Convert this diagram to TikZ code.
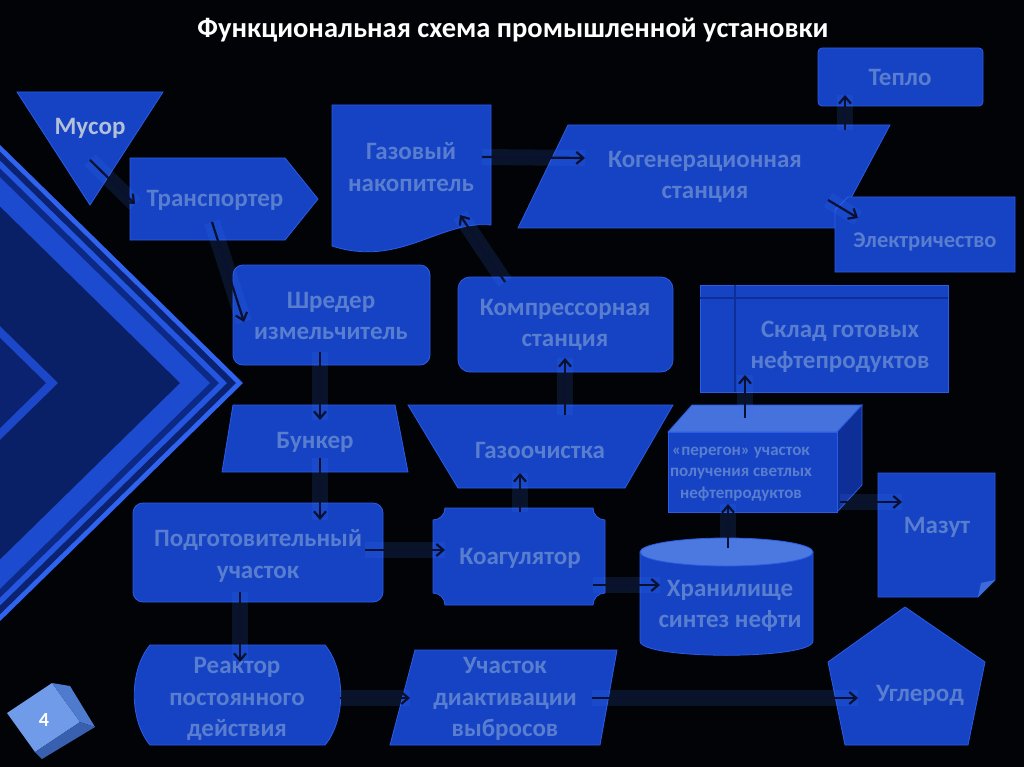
\documentclass[tikz,border=0pt]{standalone}
\usepackage{fontspec}
\setmainfont{Carlito}
\usetikzlibrary{arrows.meta, calc}
\definecolor{bgBlack}{HTML}{020307}
\definecolor{boxBlue}{HTML}{1543C4}
\definecolor{boxEdge}{HTML}{2B5CE6}
\definecolor{boxLight}{HTML}{5A86E6}
\definecolor{boxDark}{HTML}{0E2F98}
\definecolor{txtBlue}{HTML}{5A7ECF}
\definecolor{txtGrey}{HTML}{B4C0D8}
\definecolor{arrowNavy}{HTML}{0A1030}
\definecolor{glowBlue}{HTML}{3A78FF}
\definecolor{cubeLight}{HTML}{6F9BE8}
\definecolor{cubeMid}{HTML}{4F7BCF}
\definecolor{cubeDark}{HTML}{3860AE}
\tikzset{
  shapebox/.style = {fill=boxBlue, draw=boxEdge, line width=0.8pt},
  lbl/.style      = {font=\bfseries\fontsize{25}{31.5}\selectfont, txtBlue, align=center},
  slbl/.style     = {font=\bfseries\fontsize{17}{21.5}\selectfont, txtBlue, align=center},
  flow/.style     = {-{Straight Barb[length=7pt,width=12pt]}, line width=2.2pt, arrowNavy,
                     preaction={-, draw, glowBlue, opacity=0.14, line width=16pt}},
}

\begin{document}
\begin{tikzpicture}[x=1pt, y=-1pt]

\fill[bgBlack] (0,0) rectangle (1024,767);
\useasboundingbox (0,0) rectangle (1024,767);

% ---- left chevrons -------------------------------------------------------
\foreach \ax/\col in {243/2F63F0, 236/0A2270, 227/2556E0, 219/0C2A85,
                      210/1D4BD0, 180/0A2066, 58/1B47C8, 46/0A2270} {
  \definecolor{chev}{HTML}{\col}
  \fill[chev] (0,{383-0.98*\ax}) -- (\ax,383) -- (0,{383+0.98*\ax}) -- cycle;
}

\node[font=\bfseries\fontsize{28.5}{30}\selectfont, white] (title) at (513,30)
  {Функциональная схема промышленной установки};

% ---- shapes ----------------------------------------------------------------
\draw[shapebox] (17,92) -- (163,92) -- (90,205) -- cycle;
\node[lbl, txtGrey] (musor) at (90,128) {Мусор};

\draw[shapebox] (130,158) -- (285,158) -- (318,199) -- (285,240) -- (130,240) -- cycle;
\node[lbl] (transp) at (215,200) {Транспортер};

\draw[shapebox] (332,105) -- (491,105) -- (491,225)
  .. controls (440,220) and (400,268) .. (332,246) -- cycle;
\node[lbl] (gazacc) at (411,167) {Газовый\\накопитель};

\draw[shapebox] (568,125) -- (890,125) -- (835,228) -- (518,228) -- cycle;
\node[lbl] (kogen) at (705,177) {Когенерационная\\станция};

\draw[shapebox, rounded corners=4pt] (818,48) rectangle (983,106);
\node[lbl] (teplo) at (900,77) {Тепло};

\draw[shapebox] (848,197) -- (1015,197) -- (1015,272) -- (835,272) -- (835,210) -- cycle;
\node[lbl, font=\bfseries\fontsize{22.5}{24}\selectfont] (elec) at (925,242) {Электричество};

\draw[shapebox, rounded corners=10pt] (233,265) rectangle (430,365);
\node[lbl] (shred) at (331,316) {Шредер\\измельчитель};

\draw[shapebox, rounded corners=12pt] (458,277) rectangle (673,372);
\node[lbl] (compr) at (565,325) {Компрессорная\\станция};

\draw[shapebox] (700,285) rectangle (948,392);
\draw[boxDark, line width=1.6pt] (700,298) -- (948,298) (735,285) -- (735,392);
\node[lbl] (sklad) at (840,347) {Склад готовых\\нефтепродуктов};

\draw[shapebox] (233,405) -- (395,405) -- (408,472) -- (222,472) -- cycle;
\node[lbl] (bunker) at (315,442) {Бункер};

\draw[shapebox] (408,405) -- (673,405) -- (625,488) -- (458,488) -- cycle;
\node[lbl] (gasclean) at (540,450) {Газоочистка};

% cuboid
\draw[shapebox, fill=boxLight!70!boxBlue] (668,432) -- (692,405) -- (862,405) -- (837,432) -- cycle;
\draw[shapebox, fill=boxDark] (837,432) -- (862,405) -- (862,485) -- (837,512) -- cycle;
\draw[shapebox] (668,432) rectangle (837,512);
\node[slbl] (peregon) at (741,474) {«перегон» участок\\получения светлых\\нефтепродуктов};

\draw[shapebox] (878,473) -- (995,473) -- (995,580) -- (978,597) -- (878,597) -- cycle;
\fill[boxLight!60!boxBlue] (995,580) -- (981,583) -- (978,597) -- cycle;
\node[lbl] (mazut) at (937,527) {Мазут};

\draw[shapebox, rounded corners=10pt] (133,503) rectangle (383,602);
\node[lbl] (podgot) at (258,556) {Подготовительный\\участок};

% plaque
\draw[shapebox] (445,508) -- (593,508)
  .. controls (593,514.6) and (598.4,520) .. (605,520) -- (605,593)
  .. controls (598.4,593) and (593,598.4) .. (593,605) -- (445,605)
  .. controls (445,598.4) and (439.6,593) .. (433,593) -- (433,520)
  .. controls (439.6,520) and (445,514.6) .. (445,508) -- cycle;
\node[lbl] (coag) at (520,558) {Коагулятор};

% cylinder
\draw[shapebox] (640,552) -- (640,641) .. controls (640,660) and (813,660) .. (813,641)
  -- (813,552) -- cycle;
\draw[shapebox, fill=boxLight!80!boxBlue] (726.5,552) ellipse [x radius=86.5, y radius=14];
\node[lbl] (storage) at (730,606) {Хранилище\\синтез нефти};

\draw[shapebox] (150,645) -- (325,645) .. controls (346,670) and (346,720) .. (325,745)
  -- (150,745) .. controls (129,720) and (129,670) .. (150,645) -- cycle;
\node[lbl] (reactor) at (237,699) {Реактор\\постоянного\\действия};

\draw[shapebox] (415,650) -- (617,650) -- (600,745) -- (390,745) -- cycle;
\node[lbl] (deact) at (505,699) {Участок\\диактивации\\выбросов};

\draw[shapebox] (905,607) -- (985,662) -- (968,745) -- (845,745) -- (828,662) -- cycle;
\node[lbl] (carbon) at (920,695) {Углерод};

% ---- page badge --------------------------------------------------------------
\fill[cubeLight] (7,713) -- (52,683) -- (80,722) -- (35,752) -- cycle;
\fill[cubeMid]   (52,683) -- (70,686) -- (95,727) -- (80,722) -- cycle;
\fill[cubeDark]  (35,752) -- (80,722) -- (95,727) -- (42,759) -- cycle;
\node[font=\bfseries\fontsize{20}{22}\selectfont, white] (badge) at (44,720) {4};

% ---- connectors ----------------------------------------------------------
\draw[flow] ($(musor)+(0,32)$)     -- ($(transp)+(-80,4)$);
\draw[flow] ($(transp)+(-3,22)$)   -- ($(shred)+(-87,6)$);
\draw[flow] ($(shred)+(-11,36)$)   -- ($(bunker)+(5,-22)$);
\draw[flow] ($(bunker)+(5,16)$)    -- ($(podgot)+(62,-36)$);
\draw[flow] ($(podgot)+(107,-6)$)  -- ($(coag)+(-75,-8)$);
\draw[flow] ($(podgot)+(-18,36)$)  -- ($(reactor)+(3,-37)$);
\draw[flow] ($(coag)+(0,-46)$)     -- ($(gasclean)+(-20,23)$);
\draw[flow] ($(gasclean)+(25,-35)$) -- ($(compr)+(0,33)$);
\draw[flow] ($(compr)+(-60,-43)$)  -- ($(gazacc)+(49,48)$);
\draw[flow] ($(gazacc)+(71,-10)$)  -- ($(kogen)+(-120,-19)$);
\draw[flow] ($(kogen)+(140,-47)$)  -- ($(teplo)+(-55,18)$);
\draw[flow] ($(kogen)+(123,23)$)   -- ($(elec)+(-67,-24)$);
\draw[flow] ($(coag)+(73,27)$)     -- ($(storage)+(-70,-21)$);
\draw[flow] ($(storage)+(-2,-58)$) -- ($(peregon)+(-13,30)$);
\draw[flow] ($(peregon)+(4,-56)$)  -- ($(sklad)+(-95,28)$);
\draw[flow] ($(peregon)+(99,28)$)  -- ($(mazut)+(-35,-25)$);
\draw[flow] ($(reactor)+(103,-1)$) -- ($(deact)+(-95,-1)$);
\draw[flow] ($(deact)+(87,-1)$)    -- ($(carbon)+(-62,3)$);

\end{tikzpicture}
\end{document}
